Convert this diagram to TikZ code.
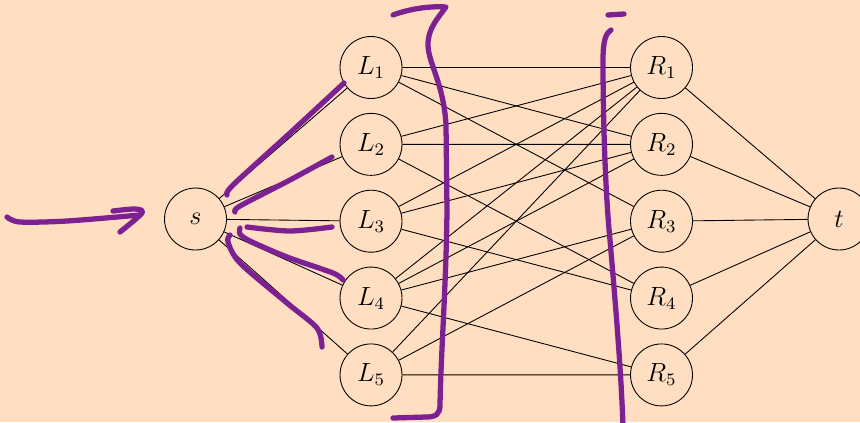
\documentclass[tikz,border=0pt]{standalone}
\usetikzlibrary{positioning}
\definecolor{clrPaper}{RGB}{255,222,193}
\definecolor{clrInk}{RGB}{125,32,145}
\tikzset{
  vert/.style = {circle, draw, minimum size=0.992cm, inner sep=0pt, font=\large},
  edge/.style = {draw, thin},
  ink/.style  = {draw=clrInk, line width=2.4pt, line cap=round, line join=round},
}

\begin{document}
\begin{tikzpicture}[x=0.016cm, y=-0.016cm]

  % Paper
  \useasboundingbox (0,0) rectangle (860,422);
  \fill[clrPaper] (0,0) rectangle (860,422);

  % Source and sink
  \node[vert] (s) at (195.5,219) {$s$};
  \node[vert] (t) at (839,219)   {$t$};

  % Left column
  \node[vert] (L1) at (371,67.5)          {$L_1$};
  \node[vert, below=0.224cm of L1] (L2)   {$L_2$};
  \node[vert, below=0.224cm of L2] (L3)   {$L_3$};
  \node[vert, below=0.224cm of L3] (L4)   {$L_4$};
  \node[vert, below=0.224cm of L4] (L5)   {$L_5$};

  % Right column
  \node[vert] (R1) at (661.5,67.5)        {$R_1$};
  \node[vert, below=0.224cm of R1] (R2)   {$R_2$};
  \node[vert, below=0.224cm of R2] (R3)   {$R_3$};
  \node[vert, below=0.224cm of R3] (R4)   {$R_4$};
  \node[vert, below=0.224cm of R4] (R5)   {$R_5$};

  % s -> L, R -> t
  \path[edge] (s) -- (L1) (s) -- (L2) (s) -- (L3) (s) -- (L4) (s) -- (L5);
  \path[edge] (R1) -- (t) (R2) -- (t) (R3) -- (t) (R4) -- (t) (R5) -- (t);

  % Bipartite part
  \path[edge] (L1) -- (R1) (L1) -- (R2) (L1) -- (R3);
  \path[edge] (L2) -- (R1) (L2) -- (R2) (L2) -- (R4);
  \path[edge] (L3) -- (R1) (L3) -- (R2) (L3) -- (R4);
  \path[edge] (L4) -- (R1) (L4) -- (R2) (L4) -- (R3) (L4) -- (R5);
  \path[edge] (L5) -- (R1) (L5) -- (R3) (L5) -- (R5);

  % Hand-drawn marks: arrow into s
  \draw[ink] plot[smooth] coordinates {(7,217) (20,222) (67,221) (140,215)};
  \draw[ink] plot[smooth] coordinates {(113,211) (135,209) (142,213) (120,232)};

  % Hand-drawn marks along the s edges
  \draw[ink] plot[smooth] coordinates {(227,195) (233,185) (290,133) (344,83)};
  \draw[ink] plot[smooth] coordinates {(235,212) (240,206) (290,180) (332,157)};
  \draw[ink] plot[smooth] coordinates {(247,227) (290,231) (332,227)};
  \draw[ink] plot[smooth] coordinates {(240,228) (240,234) (250,241) (287,257) (333,273) (343,280)};
  \draw[ink] plot[smooth] coordinates {(230,235) (228,242) (240,263) (287,303) (317,328) (322,347)};

  % Hand-drawn cuts
  \draw[ink] (393,15) .. controls (412,8) and (432,6) .. (446,7)
             .. controls (438,18) and (428,28) .. (428,45)
             .. controls (428,62) and (444,85) .. (446,125)
             -- (447,210)
             .. controls (446,290) and (441,350) .. (440,405)
             .. controls (440,414) and (436,417) .. (426,417)
             -- (393,418);
  \draw[ink] (608,15) -- (624,14);
  \draw[ink] (611,30) .. controls (606,33) and (603,40) .. (603,60)
             .. controls (603,130) and (606,200) .. (610,240)
             .. controls (616,310) and (621,370) .. (623,426);

\end{tikzpicture}
\end{document}
